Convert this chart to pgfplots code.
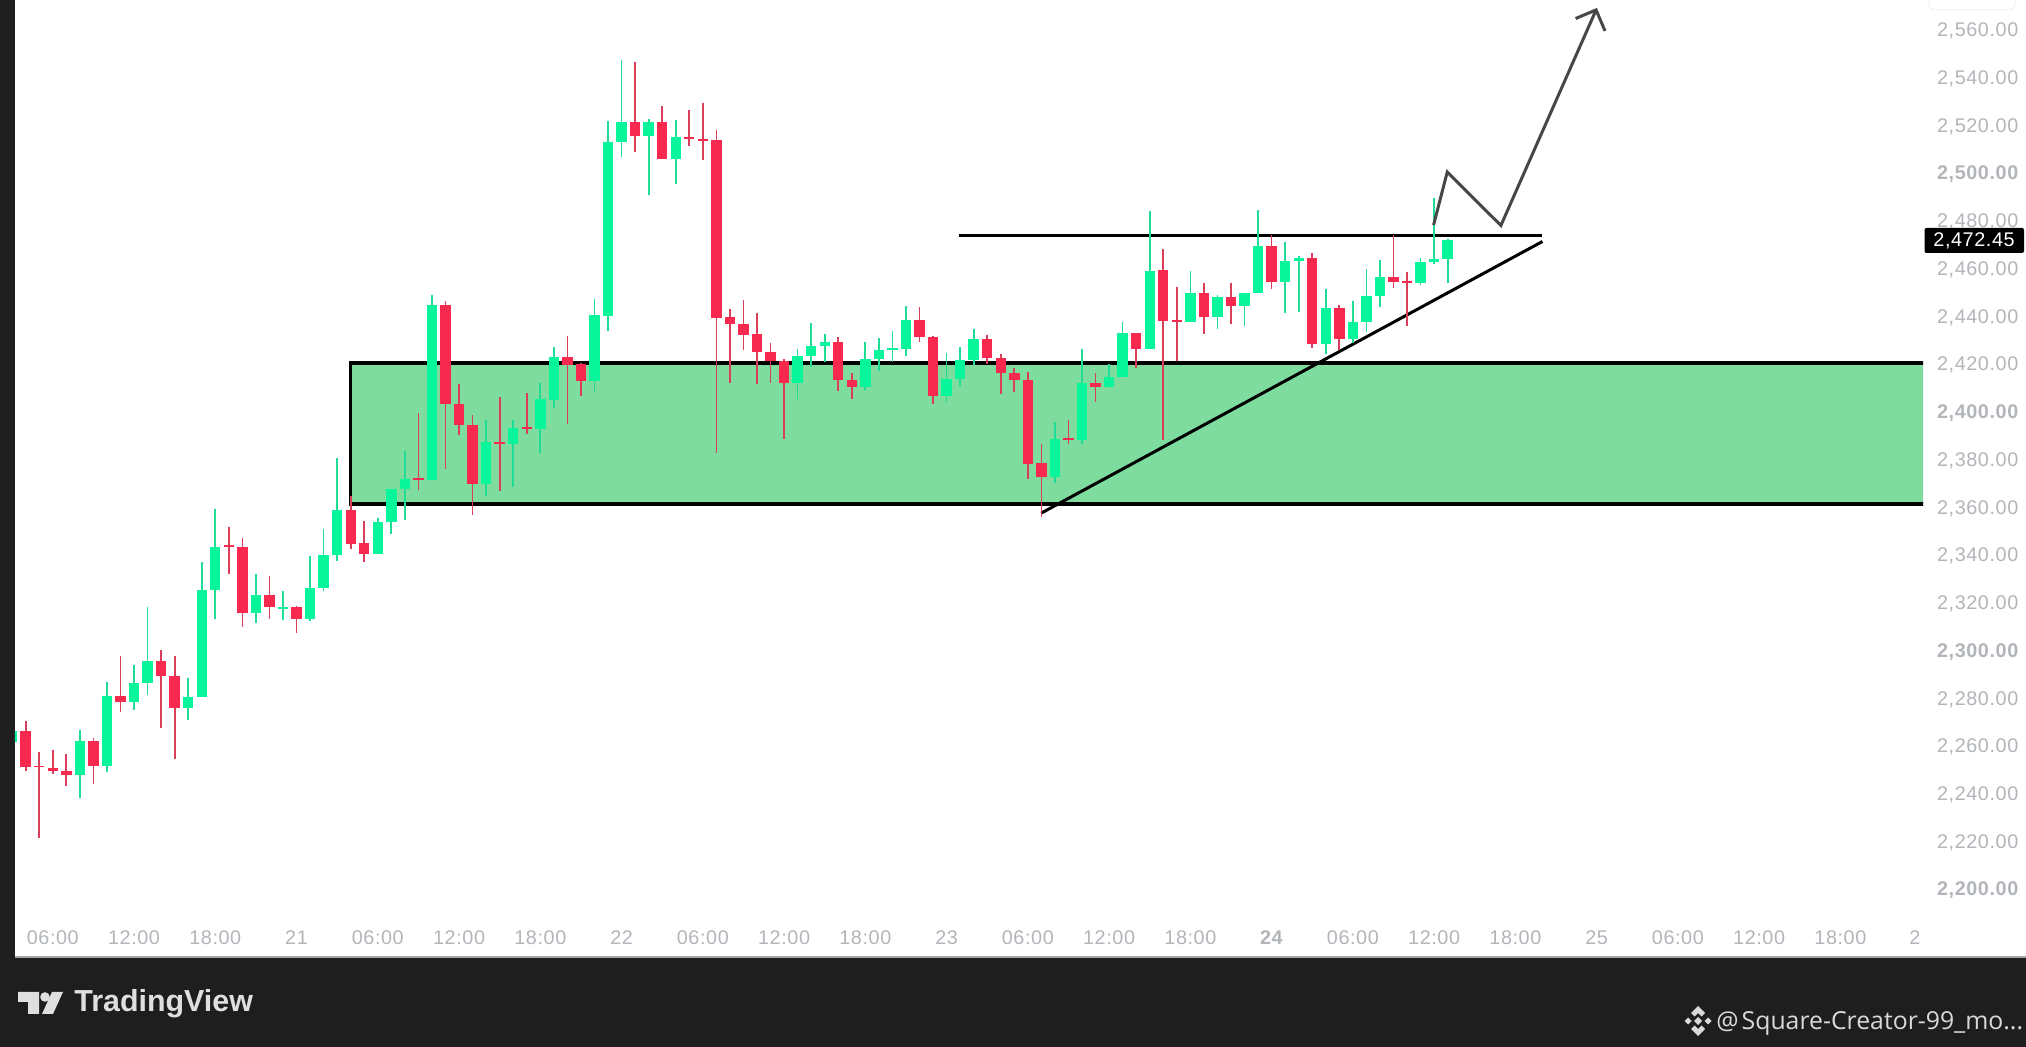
\documentclass[border=0pt]{standalone}
\usepackage{pgfplots}
\usepackage{pgfplotstable}
\usepackage{fontspec}
\pgfplotsset{compat=1.18}
\setmainfont{Liberation Sans}
\newfontfamily\labfont[LetterSpace=3]{Liberation Sans}
\newfontfamily\wmfont{Open Sans}
\definecolor{upc}{HTML}{08F59C}
\definecolor{dnc}{HTML}{F7294F}
\definecolor{zonec}{HTML}{7EDC9F}
\definecolor{darkbg}{HTML}{1E1E1E}
\definecolor{tickc}{HTML}{B2B5BA}
\pgfplotstableread{
i wh bt bb wl
-1 2266.0 2266.0 2261.6 2261.6
4 2266.6 2261.8 2247.7 2238.1
6 2286.8 2281.0 2251.5 2248.8
8 2294.0 2286.2 2278.1 2274.8
9 2318.0 2295.3 2286.2 2281.2
12 2288.4 2280.4 2275.9 2270.9
13 2336.8 2325.1 2280.4 2280.4
14 2359.2 2343.4 2325.1 2313.1
17 2331.8 2323.2 2315.5 2311.3
19 2324.9 2318.2 2317.4 2312.8
21 2339.5 2325.9 2313.2 2312.4
22 2350.9 2340.0 2325.9 2324.6
23 2380.4 2358.8 2340.0 2337.4
26 2355.4 2353.8 2340.2 2340.2
27 2367.6 2367.6 2353.6 2348.8
28 2383.3 2371.7 2367.4 2354.4
30 2448.7 2444.5 2371.1 2371.1
34 2396.6 2387.4 2369.7 2364.5
36 2396.4 2393.2 2386.4 2368.2
38 2411.8 2405.1 2392.7 2382.7
39 2426.9 2422.7 2405.0 2401.6
42 2447.0 2440.4 2412.6 2408.3
43 2521.7 2512.9 2440.1 2433.7
44 2547.2 2521.4 2512.9 2506.7
46 2522.4 2521.4 2515.4 2490.7
48 2522.1 2514.8 2505.8 2495.3
57 2426.0 2423.2 2412.1 2405.1
58 2437.2 2427.3 2423.2 2418.8
59 2432.5 2429.2 2427.4 2420.9
62 2429.0 2422.0 2410.1 2409.0
63 2430.9 2425.8 2421.8 2417.0
64 2433.9 2426.6 2425.6 2420.9
65 2444.2 2438.5 2426.3 2423.4
68 2424.6 2413.7 2406.6 2403.8
69 2426.9 2421.6 2413.6 2410.4
70 2434.4 2430.2 2421.6 2419.3
76 2395.7 2388.6 2372.4 2369.9
78 2426.0 2411.8 2387.9 2386.4
80 2419.9 2414.5 2410.2 2410.2
81 2437.3 2432.7 2414.3 2414.3
83 2484.0 2459.0 2426.3 2426.3
86 2458.8 2449.8 2437.6 2437.6
88 2448.8 2448.0 2439.6 2434.6
90 2449.5 2449.5 2444.0 2435.8
91 2484.4 2469.3 2449.5 2449.5
93 2471.1 2462.9 2454.2 2441.4
94 2465.1 2464.3 2462.9 2441.7
96 2451.3 2443.2 2428.4 2424.1
98 2446.4 2437.3 2430.2 2428.6
99 2459.5 2448.2 2437.3 2433.3
100 2463.5 2456.2 2448.2 2443.8
103 2464.1 2462.5 2453.8 2453.0
104 2489.3 2464.0 2462.5 2461.6
105 2472.1 2471.7 2464.0 2454.0
}\up
\pgfplotstableread{
i wh bt bb wl
0 2270.3 2266.0 2251.2 2249.6
1 2257.5 2251.7 2250.9 2221.4
2 2258.0 2250.7 2249.3 2248.0
3 2256.7 2249.4 2247.7 2243.0
5 2263.2 2261.8 2251.7 2244.0
7 2297.4 2281.0 2278.1 2274.3
10 2300.0 2295.3 2289.4 2267.4
11 2297.4 2289.4 2275.9 2254.6
15 2351.7 2343.9 2343.1 2331.8
16 2347.2 2343.4 2315.5 2309.7
18 2330.9 2323.2 2317.9 2313.1
20 2318.4 2317.9 2313.2 2307.2
24 2364.5 2358.8 2344.5 2342.2
25 2354.1 2344.8 2340.2 2337.0
29 2399.3 2372.1 2371.3 2367.1
31 2446.3 2444.5 2403.2 2375.7
32 2411.3 2403.3 2394.3 2390.2
33 2398.7 2394.5 2369.7 2356.8
35 2405.9 2387.2 2386.4 2366.8
37 2407.9 2393.6 2392.8 2390.4
40 2431.6 2422.7 2419.5 2394.8
41 2420.2 2419.7 2412.8 2406.5
45 2546.5 2521.4 2515.4 2508.8
47 2527.9 2521.4 2505.9 2505.9
49 2526.3 2514.8 2514.0 2511.3
50 2529.4 2514.1 2513.3 2505.3
51 2517.9 2513.6 2439.3 2382.7
52 2443.1 2439.4 2436.8 2412.1
53 2446.7 2436.8 2432.2 2425.8
54 2441.1 2432.5 2424.8 2411.5
55 2428.8 2424.8 2421.2 2412.1
56 2421.8 2421.3 2412.1 2388.3
60 2431.1 2429.2 2413.3 2408.7
61 2416.0 2413.3 2410.1 2405.1
66 2443.6 2438.5 2431.1 2429.0
67 2431.5 2431.2 2406.6 2403.1
71 2432.0 2430.2 2422.3 2419.8
72 2424.1 2422.3 2416.1 2407.2
73 2418.1 2416.3 2413.2 2408.0
74 2416.7 2413.3 2378.0 2371.9
75 2386.2 2378.3 2372.4 2356.0
77 2396.5 2388.8 2388.0 2386.4
79 2416.0 2411.8 2410.4 2404.1
82 2432.7 2432.7 2426.3 2418.3
84 2468.1 2459.1 2437.8 2388.1
85 2452.3 2438.2 2437.4 2421.2
87 2453.7 2449.8 2439.7 2432.3
89 2453.7 2448.0 2444.0 2436.8
92 2473.9 2469.3 2454.2 2451.3
95 2466.2 2464.2 2428.4 2426.7
97 2444.6 2443.2 2430.2 2425.8
101 2473.9 2456.2 2454.2 2451.6
102 2458.6 2454.7 2453.9 2435.8
}\down
\begin{document}
\begin{tikzpicture}
\useasboundingbox (0,0) rectangle (1013pt,523.5pt);
% page background (x,y in reference pixels, y downward)
\begin{scope}[x=0.5pt,y=-0.5pt,yshift=523.5pt]
\fill[darkbg] (0,0) rectangle (2026,1047);
\fill[white] (15,0) rectangle (2026,957);
\fill[gray!70] (15,956.5) rectangle (2026,958.5);
\draw[black!6,line width=0.5pt,rounded corners=3pt] (1929,-6) rectangle (2015,10);
\end{scope}
\begin{axis}[
  at={(7.5pt,45pt)},anchor=south west,
  scale only axis,width=954pt,height=478.5pt,
  xmin=-0.79,xmax=140.1,ymin=2171.5,ymax=2572.36,
  axis line style={draw=none},
  major tick length=0pt,
  tick style={draw=none},
  clip mode=individual,
  xtick={2,8,14,20,26,32,38,44,50,56,62,68,74,80,86,92,98,104,110,116,122,128,134,139.5},
  xticklabels={06:00,12:00,18:00,21,06:00,12:00,18:00,22,06:00,12:00,18:00,23,06:00,12:00,18:00,\textbf{24},06:00,12:00,18:00,25,06:00,12:00,18:00,2},
  xticklabel style={font=\labfont\fontsize{9.9}{12}\selectfont,text=tickc,anchor=center,yshift=9.5pt},
  ytick={2200,2220,2240,2260,2280,2300,2320,2340,2360,2380,2400,2420,2440,2460,2480,2500,2520,2540,2560},
  yticklabels={\textbf{2,200.00},{2,220.00},{2,240.00},{2,260.00},{2,280.00},\textbf{2,300.00},{2,320.00},{2,340.00},{2,360.00},{2,380.00},\textbf{2,400.00},{2,420.00},{2,440.00},{2,460.00},{2,480.00},\textbf{2,500.00},{2,520.00},{2,540.00},{2,560.00}},
  yticklabel pos=right,
  yticklabel style={font=\labfont\fontsize{9.9}{12}\selectfont,text=tickc,anchor=west,xshift=3.5pt,yshift=-0.8pt},
  error bars/error mark=none,
]
% demand zone
\addplot[fill=zonec,draw=black,line width=1.8pt] coordinates {(23.98,2361.3) (23.98,2420.2) (141,2420.2) (141,2361.3)} -- cycle;
% pattern lines
\addplot[black,line width=1.5pt] coordinates {(68.9,2473.9) (112,2473.9)};
\addplot[black,line width=1.5pt] coordinates {(74.98,2357.4) (112,2471.2)};
% wicks
\addplot[draw=none,error bars/.cd,y dir=both,y explicit,error bar style={draw=upc!80!gray,line width=0.85pt}]
  table[x=i,y=bt,y error plus expr=\thisrow{wh}-\thisrow{bt},y error minus expr=\thisrow{bt}-\thisrow{wl}]{\up};
\addplot[draw=none,error bars/.cd,y dir=both,y explicit,error bar style={draw=dnc!75!gray,line width=0.85pt}]
  table[x=i,y=bt,y error plus expr=\thisrow{wh}-\thisrow{bt},y error minus expr=\thisrow{bt}-\thisrow{wl}]{\down};
% bodies
\addplot[draw=none,error bars/.cd,y dir=plus,y explicit,error bar style={draw=upc,line width=5.2pt}]
  table[x=i,y=bb,y error expr=\thisrow{bt}-\thisrow{bb}]{\up};
\addplot[draw=none,error bars/.cd,y dir=plus,y explicit,error bar style={draw=dnc,line width=5.2pt}]
  table[x=i,y=bb,y error expr=\thisrow{bt}-\thisrow{bb}]{\down};
% projected path
\addplot[color={black!72},line width=1.5pt,line join=miter] coordinates {(103.96,2478.1) (104.97,2500.3) (108.93,2477.9) (115.96,2568.2)};
\addplot[color={black!72},line width=1.5pt] coordinates {(114.45,2564.6) (115.96,2568.2) (116.62,2559.4)};
\end{axis}
\begin{scope}[x=0.5pt,y=-0.5pt,yshift=523.5pt]
% last price tag
\fill[black,rounded corners=1pt] (1924.5,228) rectangle (2024,253);
\node[text=white,font=\labfont\fontsize{9.9}{12}\selectfont,anchor=center] at (1974,240.5) {2,472.45};
% TradingView logo
\fill[gray!25] (18,992) -- (39,992) -- (39,1014) -- (28,1014) -- (28,1002) -- (18,1002) -- cycle;
\fill[gray!25] (45,997) circle (4.8);
\fill[gray!25] (52,992) -- (63,992) -- (53,1014) -- (42,1014) -- cycle;
\node[text=gray!25,anchor=west,inner sep=0pt,font=\bfseries\fontsize{15.2}{18}\selectfont] at (74,1004) {TradingView};
% Binance mark
\fill[gray!30] (1698,1006) -- (1705,1013) -- (1701.5,1016.5) -- (1698,1013) -- (1694.5,1016.5) -- (1691,1013) -- cycle;
\fill[gray!30] (1698,1036) -- (1705,1029) -- (1701.5,1025.5) -- (1698,1029) -- (1694.5,1025.5) -- (1691,1029) -- cycle;
\fill[gray!30] (1698,1017) -- (1702,1021) -- (1698,1025) -- (1694,1021) -- cycle;
\fill[gray!30] (1688,1017.5) -- (1691.5,1021) -- (1688,1024.5) -- (1684.5,1021) -- cycle;
\fill[gray!30] (1708,1017.5) -- (1711.5,1021) -- (1708,1024.5) -- (1704.5,1021) -- cycle;
\node[text=gray!30,anchor=west,inner sep=0pt,font=\wmfont\fontsize{12.4}{15}\selectfont] at (1716,1024) {@\hspace{1.5pt}Square-Creator-99\_mo...};
\end{scope}
\end{tikzpicture}
\end{document}
